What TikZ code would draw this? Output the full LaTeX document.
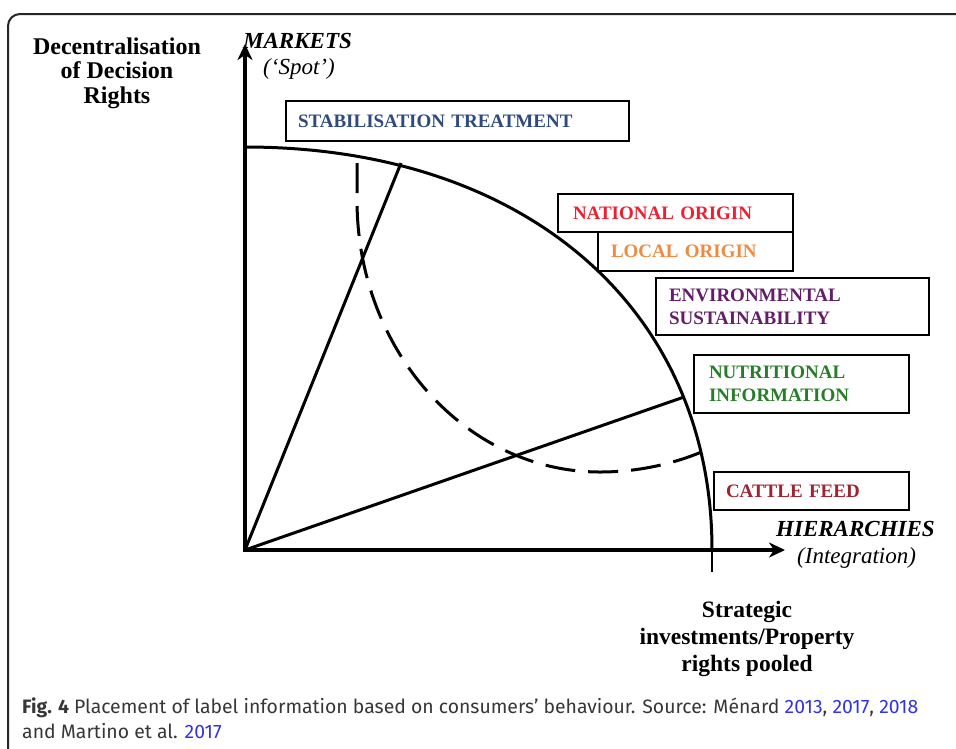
\documentclass[tikz,border=0pt]{standalone}
\usepackage{fontspec}
\setmainfont{Liberation Serif}
\newfontfamily\capfont{Fira Sans}
\usetikzlibrary{arrows.meta}
\definecolor{stabblue}{RGB}{46,74,127}
\definecolor{natred}{RGB}{238,32,48}
\definecolor{locorange}{RGB}{240,138,64}
\definecolor{envpurple}{RGB}{100,30,105}
\definecolor{nutgreen}{RGB}{40,125,40}
\definecolor{cattlered}{RGB}{160,35,50}
\definecolor{linkblue}{RGB}{50,50,230}
\definecolor{capgray}{RGB}{55,55,55}
\tikzset{
  lbox/.style={draw=black, line width=2pt, fill=white, inner ysep=0pt, anchor=north west,
    align=left, font=\fontsize{19}{23}\selectfont\bfseries},
  axis/.style={line width=4pt, line join=miter, {Stealth[length=16pt,width=15pt,inset=5pt]}-{Stealth[length=16pt,width=15pt,inset=5pt]}},
  thickline/.style={line width=3pt},
  dashline/.style={line width=3pt, dash pattern=on 30pt off 13pt},
  axlabel/.style={inner sep=0pt, font=\fontsize{23}{27}\selectfont\bfseries\itshape},
  axsub/.style={inner sep=0pt, font=\fontsize{23}{27}\selectfont\itshape},
  sidelabel/.style={inner sep=0pt, align=center, font=\fontsize{24}{24.5}\selectfont\bfseries},
  botlabel/.style={inner sep=0pt, align=center, font=\fontsize{23.5}{27}\selectfont\bfseries},
  caption/.style={inner sep=0pt, anchor=base west, text=capgray, font=\capfont\fontsize{19.4}{25}\selectfont},
}
\begin{document}
\begin{tikzpicture}[x=1pt,y=-1pt]
\useasboundingbox (0,0) rectangle (956,748);
% frame
\draw[line width=2pt, black!85, rounded corners=12pt] (8,760) -- (8,14) -- (970,14);

% coordinates
\coordinate (O) at (245,550);
\coordinate (ytip) at (245,44);
\coordinate (xtip) at (785,550);
\coordinate (arcTop) at (245,147);
\coordinate (arcEnd) at (712,550);
\coordinate (arcTick) at (712,572);
\coordinate (l1end) at (401,163);
\coordinate (l2end) at (684,397);
\coordinate (dTop) at (357,163);
\coordinate (dStart) at (357,200);

% quarter curve
\draw[thickline] (arcTop) .. controls (525,147) and (712,308) .. (arcEnd);
\draw[line width=1.2pt] (arcEnd) -- (arcTick);

% rays
\draw[thickline] (O) -- (l1end);
\draw[thickline] (O) -- (l2end);

% dashed curve
\draw[dashline] (dTop) -- (dStart)
  arc[start angle=180, end angle=90, x radius=243, y radius=272]
  arc[start angle=90, end angle=68, x radius=270, y radius=272];

% axes
\draw[axis] (ytip) -- (O) -- (xtip);

% boxes
\node[lbox, text width=319pt, inner xsep=12pt, minimum height=40pt, text=stabblue] (stab) at (285,100) {STABILISATION TREATMENT};
\node[lbox, text width=205pt, inner xsep=15pt, minimum height=38pt, text=natred] (nat) at (557,193) {NATIONAL ORIGIN};
\node[lbox, text width=169pt, inner xsep=13pt, minimum height=39pt, text=locorange] (loc) at (597,231) {LOCAL ORIGIN};
\node[lbox, text width=247pt, inner xsep=13pt, minimum height=57pt, text=envpurple] (env) at (655,277) {ENVIRONMENTAL\\SUSTAINABILITY};
\node[lbox, text width=185pt, inner xsep=15pt, minimum height=58pt, text=nutgreen] (nut) at (693,354) {NUTRITIONAL\\INFORMATION};
\node[lbox, text width=171pt, inner xsep=12pt, minimum height=38pt, text=cattlered] (cattle) at (713,471) {CATTLE FEED};

% axis labels
\node[axlabel, anchor=base west] (markets) at (243,48) {MARKETS};
\node[axsub, anchor=base west] (spot) at (263,74) {(‘Spot’)};
\node[axlabel, anchor=base west] (hier) at (776,536) {HIERARCHIES};
\node[axsub, anchor=base west] (integ) at (797,563) {(Integration)};
\node[sidelabel, anchor=base] (decent) at (117,103) {Decentralisation\\of Decision\\Rights};
\node[botlabel, anchor=base] (strat) at (747,671) {Strategic\\investments/Property\\rights pooled};

% caption
\node[caption] (cap1) at (22,713) {\textbf{Fig. 4} Placement of label information based on consumers’ behaviour. Source: Ménard \textcolor{linkblue}{2013}, \textcolor{linkblue}{2017}, \textcolor{linkblue}{2018}};
\node[caption] (cap2) at (22,738) {and Martino et al. \textcolor{linkblue}{2017}};
\end{tikzpicture}
\end{document}
